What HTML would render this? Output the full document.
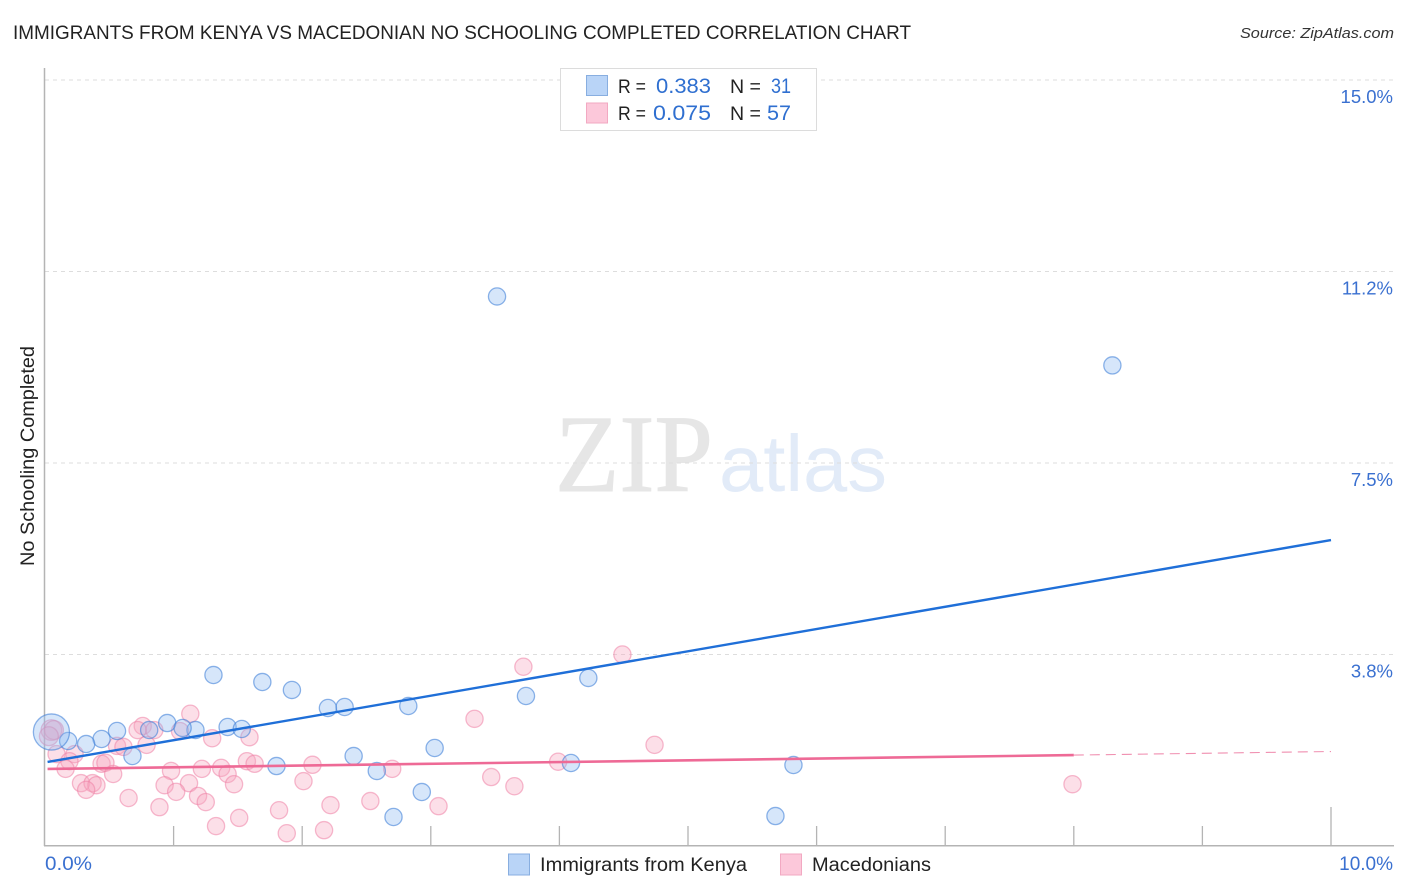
<!DOCTYPE html>
<html lang="en">
<head>
<meta charset="utf-8">
<title>Immigrants from Kenya vs Macedonian No Schooling Completed Correlation Chart</title>
<style>
html,body{margin:0;padding:0;background:#fff;}
body{width:1406px;height:892px;overflow:hidden;}
svg{display:block;font-family:"Liberation Sans",sans-serif;}
</style>
</head>
<body>
<svg id="chart" width="1406" height="892" viewBox="0 0 1406 892" xmlns="http://www.w3.org/2000/svg">
  <rect x="0" y="0" width="1406" height="892" fill="#ffffff"/>
  <text x="13" y="39" font-size="19" fill="#222" textLength="898" lengthAdjust="spacingAndGlyphs">IMMIGRANTS FROM KENYA VS MACEDONIAN NO SCHOOLING COMPLETED CORRELATION CHART</text>
  <text x="1394" y="38" font-size="15" font-style="italic" fill="#333" text-anchor="end" textLength="154" lengthAdjust="spacingAndGlyphs">Source: ZipAtlas.com</text>
  <g>
    <text x="555" y="491" font-family="'Liberation Serif',serif" font-size="110" fill="#e6e6e6" stroke="#e6e6e6" stroke-width="1" textLength="158" lengthAdjust="spacingAndGlyphs">ZIP</text>
    <text x="719" y="491" font-size="80" fill="#e2ebf8" textLength="168" lengthAdjust="spacingAndGlyphs">atlas</text>
  </g>
  <g id="grid"></g>
  <g id="axes">
    <line x1="44.5" y1="68" x2="44.5" y2="846" stroke="#b4b4b4" stroke-width="1.5"/>
    <line x1="44" y1="845.7" x2="1394" y2="845.7" stroke="#b4b4b4" stroke-width="1.5"/>
  </g>
  <g id="xticks"></g>
  <g id="ylabels"></g>
  <g id="xlabels"></g>
  <text transform="translate(34,456) rotate(-90)" font-size="19" fill="#222" text-anchor="middle" textLength="220" lengthAdjust="spacingAndGlyphs">No Schooling Completed</text>
  <g id="pinkPoints"></g>
  <g id="bluePoints"></g>
  <g id="trends"></g>

  <g>
    <rect x="560.5" y="68.5" width="256" height="62" fill="#fff" stroke="#dcdcdc" stroke-width="1"/>
    <rect x="586.5" y="75.5" width="21" height="20" fill="#b9d4f7" stroke="#88aee0" stroke-width="1"/>
    <rect x="586.5" y="103" width="21" height="20" fill="#fcc8da" stroke="#f2a9c2" stroke-width="1"/>
    <text x="618" y="93" font-size="19" fill="#222" textLength="28" lengthAdjust="spacingAndGlyphs">R =</text>
    <text x="656" y="93" font-size="21" fill="#2f6fd0" textLength="55" lengthAdjust="spacingAndGlyphs">0.383</text>
    <text x="730" y="93" font-size="19" fill="#222" textLength="31" lengthAdjust="spacingAndGlyphs">N =</text>
    <text x="771" y="93" font-size="21" fill="#2f6fd0" textLength="20" lengthAdjust="spacingAndGlyphs">31</text>
    <text x="618" y="120" font-size="19" fill="#222" textLength="28" lengthAdjust="spacingAndGlyphs">R =</text>
    <text x="653" y="120" font-size="21" fill="#2f6fd0" textLength="58" lengthAdjust="spacingAndGlyphs">0.075</text>
    <text x="730" y="120" font-size="19" fill="#222" textLength="31" lengthAdjust="spacingAndGlyphs">N =</text>
    <text x="767" y="120" font-size="21" fill="#2f6fd0" textLength="24" lengthAdjust="spacingAndGlyphs">57</text>
  </g>

  <g>
    <rect x="508.5" y="854" width="21" height="21" fill="#b9d4f7" stroke="#88aee0" stroke-width="1"/>
    <text x="540" y="871" font-size="19" fill="#222" textLength="207" lengthAdjust="spacingAndGlyphs">Immigrants from Kenya</text>
    <rect x="780.5" y="854" width="21" height="21" fill="#fcc8da" stroke="#f2a9c2" stroke-width="1"/>
    <text x="812" y="871" font-size="19" fill="#222" textLength="119" lengthAdjust="spacingAndGlyphs">Macedonians</text>
  </g>
</svg>
<script>
// Chart data (percent values)
var yTickValues = [3.75, 7.5, 11.25, 15];
var yTickLabels = ["3.8%", "7.5%", "11.2%", "15.0%"];
var xTickValues = [1, 2, 3, 4, 5, 6, 7, 8, 9, 10];
var xEdgeValues = [0, 10];
var xEdgeLabels = ["0.0%", "10.0%"];

var kenyaX = [3.515, 8.30, 1.31, 1.69, 1.92, 2.20, 2.33, 2.825, 3.74, 4.225, 0.95, 0.56, 1.17, 1.42, 1.53, 0.44, 0.32, 0.18, 0.05, 0.68, 0.81, 1.07, 1.80, 2.40, 2.58, 3.03, 2.93, 2.71, 4.09, 5.82, 5.68];
var kenyaY = [10.76, 9.41, 3.348, 3.211, 3.055, 2.702, 2.722, 2.741, 2.937, 3.29, 2.408, 2.252, 2.271, 2.33, 2.291, 2.095, 1.997, 2.056, 2.232, 1.762, 2.271, 2.311, 1.566, 1.762, 1.469, 1.919, 1.057, 0.568, 1.625, 1.586, 0.587];
var kenyaSizes = [1, 1, 1, 1, 1, 1, 1, 1, 1, 1, 1, 1, 1, 1, 1, 1, 1, 1, 2.1, 1, 1, 1, 1, 1, 1, 1, 1, 1, 1, 1, 1];

var macedonianX = [1.13, 0.76, 0.85, 0.72, 1.05, 1.30, 1.59, 0.79, 0.56, 0.61, 0.23, 0.09, 0.19, 0.16, 0.44, 0.47, 0.53, 0.28, 0.37, 0.40, 0.32, 0.98, 1.22, 1.37, 1.42, 1.47, 1.57, 1.63, 2.08, 2.01, 0.93, 1.12, 1.02, 1.19, 1.25, 0.65, 0.89, 1.82, 2.22, 1.51, 1.33, 1.88, 2.17, 3.72, 4.49, 3.34, 4.74, 3.99, 3.47, 3.65, 2.70, 2.53, 3.06, 7.99, 0.05, 0.07, 0.03];
var macedonianY = [2.59, 2.35, 2.27, 2.27, 2.25, 2.11, 2.13, 1.98, 1.96, 1.94, 1.80, 1.80, 1.66, 1.51, 1.61, 1.63, 1.41, 1.23, 1.23, 1.19, 1.10, 1.47, 1.51, 1.53, 1.41, 1.21, 1.66, 1.61, 1.59, 1.27, 1.19, 1.23, 1.06, 0.98, 0.86, 0.94, 0.76, 0.70, 0.80, 0.55, 0.39, 0.25, 0.31, 3.51, 3.75, 2.49, 1.98, 1.65, 1.35, 1.17, 1.51, 0.88, 0.78, 1.21, 2.27, 2.27, 2.15];
var macedonianSizes = [1, 1, 1, 1, 1, 1, 1, 1, 1, 1, 1, 1, 1, 1, 1, 1, 1, 1, 1, 1, 1, 1, 1, 1, 1, 1, 1, 1, 1, 1, 1, 1, 1, 1, 1, 1, 1, 1, 1, 1, 1, 1, 1, 1, 1, 1, 1, 1, 1, 1, 1, 1, 1, 1, 1.2, 1.1, 1.1];

var kenyaTrendX = [0.02, 10];
var kenyaTrendY = [1.645, 5.99];
var macedonianTrendX = [0.02, 8];
var macedonianTrendY = [1.508, 1.78];
var macedonianProjectionX = [8, 10];
var macedonianProjectionY = [1.78, 1.85];

// Axis functions
var xScale = function (v) { return 45 + v * 128.6; };
var yScale = function (v) { return 846 - v * 51.07; };

var NS = 'http://www.w3.org/2000/svg';
function make(tag, parentId, props, label) {
  var el = document.createElementNS(NS, tag);
  for (var k in props) { el.setAttribute(k, props[k]); }
  if (label !== undefined) { el.textContent = label; }
  document.getElementById(parentId).appendChild(el);
  return el;
}

yTickValues.forEach(function (v, i) {
  var line = make('line', 'grid', { x1: 45, x2: 1394, y1: yScale(v), y2: yScale(v), stroke: '#dddddd', 'stroke-width': 1, 'stroke-dasharray': '4 4' });
  
  
  var text = make('text', 'ylabels', { x: 1393, y: yScale(v) + 23, 'font-size': 18.5, fill: '#3a70d0', 'text-anchor': 'end' }, yTickLabels[i]);
  
  
});

xTickValues.forEach(function (v) {
  var top = v === 10 ? 807 : 826;
  var tick = make('line', 'xticks', { x1: xScale(v), x2: xScale(v), y1: top, y2: 846, stroke: '#b4b4b4', 'stroke-width': 1.3 });
  
  
});

xEdgeValues.forEach(function (v, i) {
  var anchor = i === 0 ? 'start' : 'end';
  var px = i === 0 ? xScale(v) : 1393;
  var label = make('text', 'xlabels', { x: px, y: 870, 'font-size': 19, fill: '#3a70d0', 'text-anchor': anchor }, xEdgeLabels[i]);
  if (i === 0) {
    label.setAttribute('textLength', '47');
    label.setAttribute('lengthAdjust', 'spacingAndGlyphs');
  }
  
  
});

macedonianX.forEach(function (v, i) {
  var dot = make('circle', 'pinkPoints', { cx: xScale(v), cy: yScale(macedonianY[i]), r: 8.6 * macedonianSizes[i], fill: 'rgba(248,165,192,0.36)', stroke: 'rgba(238,130,165,0.55)', 'stroke-width': 1.3 });
  
  
});

kenyaX.forEach(function (v, i) {
  var dot = make('circle', 'bluePoints', { cx: xScale(v), cy: yScale(kenyaY[i]), r: 8.6 * kenyaSizes[i], fill: 'rgba(140,185,240,0.36)', stroke: 'rgba(60,125,215,0.58)', 'stroke-width': 1.3 });
  
  
});

var kenyaTrend = make('line', 'trends', { x1: xScale(kenyaTrendX[0]), y1: yScale(kenyaTrendY[0]), x2: xScale(kenyaTrendX[1]), y2: yScale(kenyaTrendY[1]), stroke: '#1f6fd8', 'stroke-width': 2.4 });



var macedonianTrend = make('line', 'trends', { x1: xScale(macedonianTrendX[0]), y1: yScale(macedonianTrendY[0]), x2: xScale(macedonianTrendX[1]), y2: yScale(macedonianTrendY[1]), stroke: '#ee6a96', 'stroke-width': 2.6 });



var macedonianProjection = make('line', 'trends', { x1: xScale(macedonianProjectionX[0]), y1: yScale(macedonianProjectionY[0]), x2: xScale(macedonianProjectionX[1]), y2: yScale(macedonianProjectionY[1]), stroke: '#f08fb0', 'stroke-width': 1.1, 'stroke-dasharray': '10 6' });


</script>
</body>
</html>
